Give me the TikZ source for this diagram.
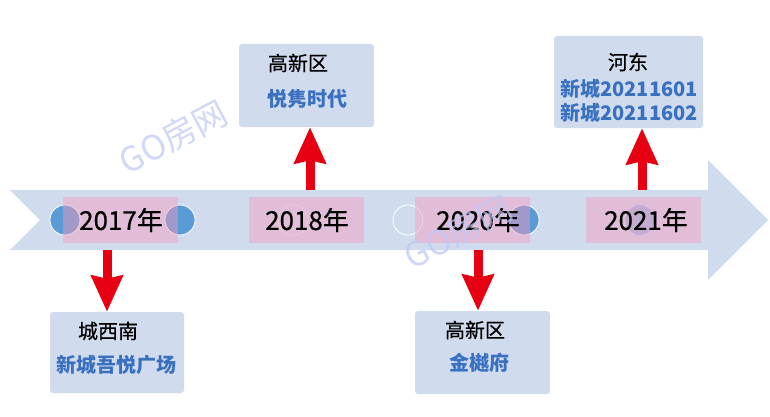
\documentclass[tikz,border=0pt]{standalone}
\usepackage{fontspec}
\setmainfont{Noto Sans CJK SC}
\usetikzlibrary{arrows.meta}
\definecolor{bandblue}{RGB}{208,220,238}
\definecolor{pinkbox}{RGB}{249,151,188}
\definecolor{dotblue}{RGB}{91,155,213}
\definecolor{arrred}{RGB}{230,0,18}
\definecolor{txtblue}{RGB}{58,112,192}
\definecolor{wmark}{RGB}{190,200,244}
\begin{document}
\begin{tikzpicture}[x=1pt,y=-1pt,
  infobox/.style={fill=bandblue, rounded corners=3pt, inner sep=0pt},
  yearbox/.style={fill=pinkbox, fill opacity=0.44, inner sep=0pt, minimum width=115pt, minimum height=46pt},
  yeartxt/.style={font=\fontsize{26}{26}\selectfont\addfontfeatures{FakeBold=0.5}, text=black, inner sep=0pt},
  dot/.style={circle, fill=dotblue, draw=white, line width=0.8pt, minimum size=30pt, inner sep=0pt},
  ghostdot/.style={circle, draw=white, line width=0.8pt, minimum size=30pt, inner sep=0pt},
  blacktxt/.style={font=\fontsize{20}{20}\selectfont\addfontfeatures{FakeBold=0.5}, text=black, inner sep=0pt},
  bluetxt/.style={font=\fontsize{20}{20}\selectfont\bfseries, text=txtblue, inner sep=0pt},
  wmtxt/.style={font=\fontsize{34}{34}\selectfont, text=wmark, text opacity=0.7, rotate=28, inner sep=0pt},
  redarrow/.style={draw=arrred, line width=9pt, -{Stealth[length=36pt,width=31pt,inset=3pt]}}
]
\useasboundingbox (0,0) rectangle (770,417);
\fill[white] (0,0) rectangle (770,417);
% timeline band
\fill[bandblue] (10,190) -- (708,190) -- (708,160) -- (768,220) -- (708,280) -- (708,250) -- (10,250) -- (40,220) -- cycle;
% dots
\node[dot] (d1) at (65,220) {};
\node[dot] (d2) at (180,220) {};
\node[ghostdot, draw opacity=0.5] (d3) at (293,220) {};
\node[ghostdot] (d4) at (408,220) {};
\node[dot] (d5) at (524,220) {};
\node[dot, fill opacity=0.45, draw opacity=0.3] (d6) at (640,220) {};
% year boxes
\node[yearbox] (y2017) at (120.5,220) {};
\node[yearbox] (y2018) at (306.5,220) {};
\node[yearbox] (y2020) at (472.5,220) {};
\node[yearbox] (y2021) at (643.5,220) {};
\node[yeartxt] (t2017) at (121,220) {2017年};
\node[yeartxt] (t2018) at (307,220) {2018年};
\node[yeartxt] (t2020) at (478,220) {2020年};
\node[yeartxt] (t2021) at (646,220) {2021年};
% info boxes
\node[infobox, minimum width=135pt, minimum height=83pt] (b2018) at (306.5,85.5) {};
\node[infobox, minimum width=149pt, minimum height=92pt] (b2021) at (628.5,82) {};
\node[infobox, minimum width=134pt, minimum height=81pt] (b2017) at (117,352.5) {};
\node[infobox, minimum width=135pt, minimum height=83pt] (b2020) at (482.5,352.5) {};
% texts
\node[blacktxt] (h2018) at (298,63) {高新区};
\node[bluetxt] (p2018) at (307,99) {悦隽时代};
\node[blacktxt] (h2021) at (628,62) {河东};
\node[bluetxt] (p2021a) at (629,89) {新城20211601};
\node[bluetxt] (p2021b) at (629,113) {新城20211602};
\node[blacktxt] (h2017) at (108,331) {城西南};
\node[bluetxt] (p2017) at (116,365) {新城吾悦广场};
\node[blacktxt] (h2020) at (475,330) {高新区};
\node[bluetxt] (p2020) at (479,363) {金樾府};
% arrows
\coordinate (a17) at (107,250);
\coordinate (a18) at (310,190);
\coordinate (a20) at (478,250);
\coordinate (a21) at (642,190);
\draw[redarrow] (a17) -- (a17 |- b2017.north);
\draw[redarrow] (a18) -- (a18 |- b2018.south);
\draw[redarrow] (a20) -- (a20 |- b2020.north);
\draw[redarrow] (a21) -- (a21 |- b2021.south);
% watermarks
\node[wmtxt] (wm1) at (173,137) {GO房网};
\node[wmtxt] (wm2) at (458,232) {GO房网};
\end{tikzpicture}
\end{document}
